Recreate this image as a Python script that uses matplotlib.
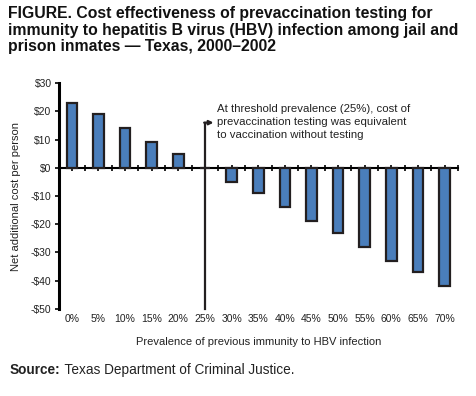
import numpy as np
import matplotlib.pyplot as plt

# prevalence categories and net additional cost per person ($)
prevalence = ['0%', '5%', '10%', '15%', '20%', '25%', '30%', '35%',
              '40%', '45%', '50%', '55%', '60%', '65%', '70%']
net_cost = [23, 19, 14, 9, 5, 0, -5, -9, -14, -19, -23, -28, -33, -37, -42]
yticks = [30, 20, 10, 0, -10, -20, -30, -40, -50]
threshold_idx = 5

plt.rcParams['font.family'] = ['Liberation Sans', 'DejaVu Sans']


def money(v):
    return f'${v}' if v >= 0 else f'-${abs(v)}'


def main():
    fig = plt.figure(figsize=(4.76, 3.96), dpi=100)
    ax = fig.add_axes([0.123, 0.22, 0.839, 0.57])

    x = np.arange(len(prevalence))
    ax.bar(x, net_cost, width=0.4, color='#4a7ebb', edgecolor='#231f20',
           linewidth=1.6, zorder=3)

    ax.set_xlim(-0.5, 14.5)
    ax.set_ylim(-50, 30)
    ax.set_yticks(yticks)
    ax.set_yticklabels([money(v) for v in yticks], fontsize=7.5, color='#222222')

    # zero axis with cross ticks at every half category
    for s in ['top', 'right']:
        ax.spines[s].set_visible(False)
    ax.spines['bottom'].set_position(('data', 0))
    ax.spines['bottom'].set_linewidth(1.5)
    ax.spines['left'].set_linewidth(2.2)
    ax.set_xticks(np.arange(-0.5, 14.51, 0.5))
    ax.tick_params(axis='x', direction='inout', length=5, width=1.2,
                   labelbottom=False)
    ax.tick_params(axis='y', direction='out', length=3, width=1.2, pad=2)

    # category labels at the bottom
    sec = ax.secondary_xaxis('bottom')
    sec.spines['bottom'].set_visible(False)
    sec.set_xticks(x)
    sec.set_xticklabels(prevalence, fontsize=7.5, color='#222222')
    sec.tick_params(length=0, pad=4)
    sec.set_xlabel('Prevalence of previous immunity to HBV infection',
                   fontsize=8, color='#222222', labelpad=9)

    ax.set_ylabel('Net additional cost per person', fontsize=8,
                  color='#222222', labelpad=7)

    # threshold marker
    ax.plot([threshold_idx, threshold_idx], [-50, 16], color='#231f20',
            linewidth=1.6, zorder=4, clip_on=False)
    ax.annotate('', xy=(threshold_idx + 0.32, 16), xytext=(threshold_idx - 0.03, 16),
                arrowprops=dict(arrowstyle='-|>', color='#231f20', lw=1.6,
                                mutation_scale=6, shrinkA=0, shrinkB=0))
    ax.text(threshold_idx + 0.45, 22.6,
            'At threshold prevalence (25%), cost of\n'
            'prevaccination testing was equivalent\n'
            'to vaccination without testing',
            fontsize=8.2, color='#222222', va='top', ha='left', linespacing=1.35)

    fig.text(0.017, 0.985,
             'FIGURE. Cost effectiveness of prevaccination testing for\n'
             'immunity to hepatitis B virus (HBV) infection among jail and\n'
             'prison inmates \u2014 Texas, 2000\u20132002',
             fontsize=11.3, fontweight='bold', va='top', ha='left',
             linespacing=1.13, color='#111111')
    src = fig.text(0.021, 0.055, 'Source:', fontsize=9.8, fontweight='bold',
                   va='baseline', ha='left', color='#222222')
    fig.text(0, 0, ' Texas Department of Criminal Justice.', fontsize=9.8,
             va='baseline', ha='left', color='#222222')
    fig.canvas.draw()
    bb = src.get_window_extent().transformed(fig.transFigure.inverted())
    fig.texts[-1].set_position((bb.x1, 0.055))

    fig.savefig('out.png', dpi=100)


if __name__ == "__main__":
    main()
